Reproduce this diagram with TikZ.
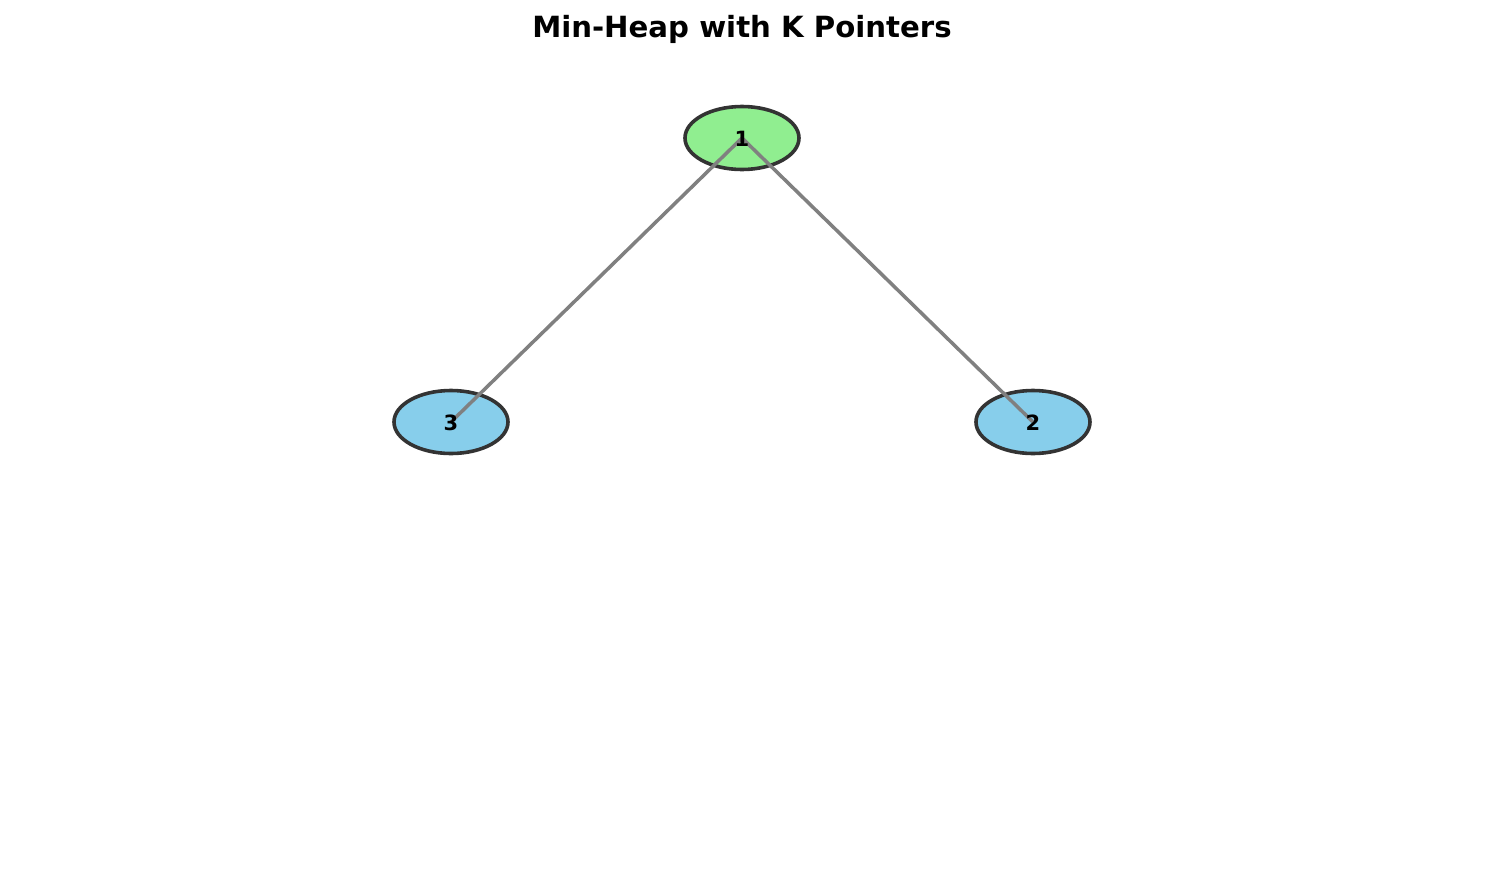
\documentclass[tikz,border=0pt]{standalone}
\usepackage{fontspec}
\setmainfont{DejaVu Sans}
\usetikzlibrary{shapes.geometric}
\definecolor{nodegreen}{HTML}{90EE90}
\definecolor{nodeblue}{HTML}{87CEEB}
\definecolor{edgegray}{HTML}{808080}
\definecolor{borderdark}{HTML}{333333}
\begin{document}
\begin{tikzpicture}[x=0.5pt,y=-0.5pt,
  heapnode/.style={ellipse, draw=borderdark, line width=1.8pt, minimum width=57pt, minimum height=31.5pt, inner sep=0pt},
  heaplabel/.style={font=\fontsize{10.5}{12}\selectfont\bfseries, inner sep=0pt},
  heapedge/.style={draw=edgegray, line width=1.75pt},
  title/.style={font=\fontsize{14.6}{17}\selectfont\bfseries, inner sep=0pt}]
\useasboundingbox (0,0) rectangle (1485,884);
\node[title] (title) at (742,29) {Min-Heap with K Pointers};
\node[heapnode, fill=nodegreen] (n1) at (742,138) {};
\node[heapnode, fill=nodeblue] (n3) at (451,422) {};
\node[heapnode, fill=nodeblue] (n2) at (1033,422) {};
\draw[heapedge] (n1.center) -- (n3.center);
\draw[heapedge] (n1.center) -- (n2.center);
\node[heaplabel] (l1) at (742,139) {1};
\node[heaplabel] (l3) at (451,423) {3};
\node[heaplabel] (l2) at (1033,423) {2};
\end{tikzpicture}
\end{document}
